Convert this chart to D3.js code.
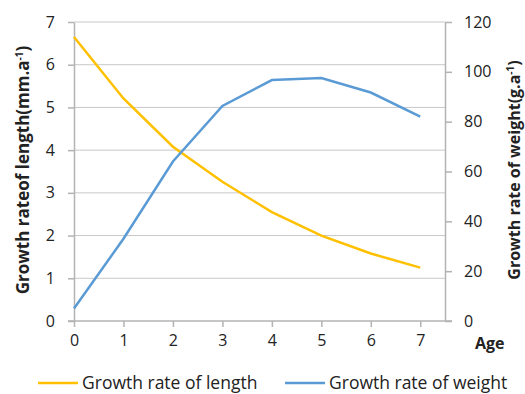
<!DOCTYPE html>
<html>
<head>
<meta charset="utf-8">
<script src="https://cdn.jsdelivr.net/npm/d3@7"></script>
<style>
  body { margin: 0; background: #fff; }
  text { font-family: "Open Sans", "Liberation Sans", sans-serif; fill: #222; }
</style>
</head>
<body>
<div id="chart"></div>
<script>
// data
var ages = [0, 1, 2, 3, 4, 5, 6, 7];
var lengthRate = [6.65, 5.21, 4.08, 3.26, 2.55, 2.0, 1.58, 1.25];
var weightRate = [5, 33, 64, 86.3, 96.7, 97.5, 91.7, 82];
var leftTicks = [0, 1, 2, 3, 4, 5, 6, 7];
var rightTicks = [0, 20, 40, 60, 80, 100, 120];
var seriesNames = ["Growth rate of length", "Growth rate of weight"];

var width = 525, height = 394;
var margin = { top: 22, right: 80, bottom: 73, left: 74 };

var svg = d3.select("#chart").append("svg")
    .attr("width", width)
    .attr("height", height);

var x = d3.scaleLinear().domain([0, 7.5]).range([margin.left, width - margin.right]);
var yL = d3.scaleLinear().domain([0, 7]).range([height - margin.bottom, margin.top]);
var yR = d3.scaleLinear().domain([0, 120]).range([height - margin.bottom, margin.top]);

var axisColor = "#b3b3b3";

// gridlines
svg.append("g")
    .selectAll("line")
    .data(leftTicks.slice(1))
    .enter().append("line")
    .attr("x1", x(0)).attr("x2", x(7.5))
    .attr("y1", function(d) { return yL(d); })
    .attr("y2", function(d) { return yL(d); })
    .attr("stroke", "#c8c8c8")
    .attr("stroke-width", 1);

// axes
var fmt = d3.format("d");
var leftAxis = svg.append("g")
    .attr("transform", "translate(" + x(0) + ",0)")
    .call(d3.axisLeft(yL).tickValues(leftTicks).tickFormat(fmt).tickSize(6).tickSizeOuter(0).tickPadding(13));
var rightAxis = svg.append("g")
    .attr("transform", "translate(" + x(7.5) + ",0)")
    .call(d3.axisRight(yR).tickValues(rightTicks).tickFormat(fmt).tickSize(7).tickSizeOuter(0).tickPadding(12));
var bottomAxis = svg.append("g")
    .attr("transform", "translate(0," + yL(0) + ")")
    .call(d3.axisBottom(x).tickValues(ages).tickFormat(fmt).tickSize(6).tickSizeOuter(0).tickPadding(8));

[leftAxis, rightAxis, bottomAxis].forEach(function(a) {
    a.selectAll("path, line").attr("stroke", axisColor).attr("stroke-width", 1.5);
    a.selectAll("text")
        .style("font-family", '"Open Sans", "Liberation Sans", sans-serif')
        .style("font-size", "16px")
        .attr("fill", "#222");
});
bottomAxis.select(".domain").attr("d", "M" + (x(0) - 6) + ",0H" + (x(7.5) + 7));

// lines
var lineL = d3.line()
    .x(function(d, i) { return x(ages[i]); })
    .y(function(d) { return yL(d); });
var lineR = d3.line()
    .x(function(d, i) { return x(ages[i]); })
    .y(function(d) { return yR(d); });

var colors = ["#ffc000", "#5b9bd5"];

svg.append("path")
    .datum(lengthRate)
    .attr("d", lineL)
    .attr("fill", "none")
    .attr("stroke", colors[0])
    .attr("stroke-width", 2.5);

svg.append("path")
    .datum(weightRate)
    .attr("d", lineR)
    .attr("fill", "none")
    .attr("stroke", colors[1])
    .attr("stroke-width", 2.5);

// axis titles
var leftTitle = svg.append("text")
    .attr("transform", "translate(29,170) rotate(-90)")
    .attr("text-anchor", "middle")
    .style("font-size", "17px")
    .style("font-weight", "bold");
leftTitle.append("tspan").text("Growth rateof length(mm.a");
leftTitle.append("tspan").attr("dy", -6).style("font-size", "10px").text("-1");
leftTitle.append("tspan").attr("dy", 6).text(")");

var rightTitle = svg.append("text")
    .attr("transform", "translate(520,170) rotate(-90)")
    .attr("text-anchor", "middle")
    .style("font-size", "16px")
    .style("font-weight", "bold");
rightTitle.append("tspan").text("Growth rate of weight(g.a");
rightTitle.append("tspan").attr("dy", -6).style("font-size", "10px").text("-1");
rightTitle.append("tspan").attr("dy", 6).text(")");

svg.append("text")
    .attr("x", 475).attr("y", 349)
    .style("font-size", "16px")
    .style("font-weight", "bold")
    .text("Age");

// legend
var legendX = [38, 285];
var legend = svg.selectAll(".legend")
    .data(seriesNames)
    .enter().append("g")
    .attr("class", "legend")
    .attr("transform", function(d, i) { return "translate(" + legendX[i] + ",383)"; });
legend.append("line")
    .attr("x1", 0).attr("x2", 40)
    .attr("stroke", function(d, i) { return colors[i]; })
    .attr("stroke-width", 2.5);
legend.append("text")
    .attr("x", 44).attr("y", 6)
    .style("font-size", "17.5px")
    .text(function(d) { return d; });
</script>
</body>
</html>
